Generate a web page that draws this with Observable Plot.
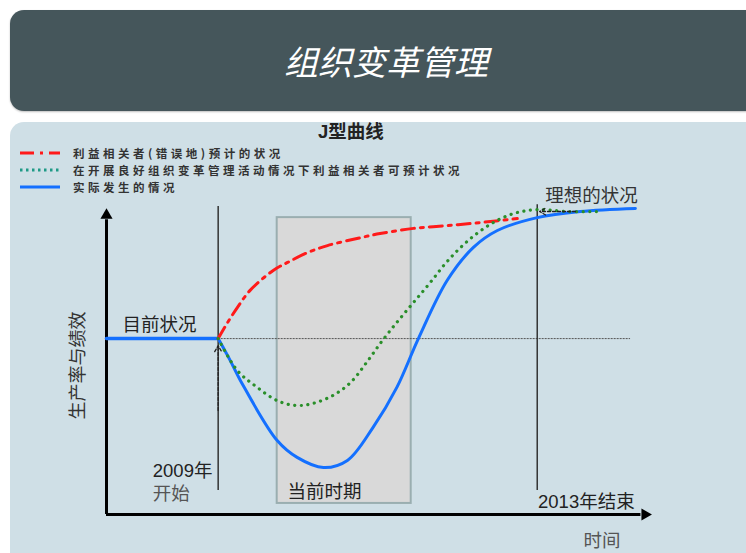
<!DOCTYPE html>
<html>
<head>
<meta charset="utf-8">
<script src="https://cdn.jsdelivr.net/npm/d3@7"></script>
<script src="https://cdn.jsdelivr.net/npm/@observablehq/plot@0.6"></script>
<style>
  html, body { margin: 0; padding: 0; background: #ffffff; }
  body { width: 746px; height: 553px; position: relative; overflow: hidden;
         font-family: "Liberation Sans", "Noto Sans CJK SC", sans-serif; }
  #header { position: absolute; left: 10px; top: 10px; width: 760px; height: 101px;
            background: #45565b; border-radius: 14px; box-shadow: 0 1px 2px rgba(0,0,0,0.25); }
  #title { position: absolute; left: 13px; top: 10px; width: 746px; height: 101px; line-height: 101px;
           text-align: center; color: #ffffff; font-size: 34px; font-style: italic;
           font-family: "Noto Sans CJK SC", sans-serif; }
  #panel { position: absolute; left: 10px; top: 122px; width: 760px; height: 450px;
           background: #cfdfe6; border-radius: 14px; }
  #subtitle { position: absolute; left: 318px; top: 120px; font-size: 18.5px; font-weight: bold;
              color: #222; line-height: 24px; font-family: "Liberation Sans", "Noto Sans CJK SC", sans-serif; }
  .leg { position: absolute; left: 20px; height: 17px; line-height: 17px; display: flex; align-items: center; }
  .leg svg { width: 40px; height: 8px; margin-right: 13px; }
  .leg span { font-size: 11.5px; line-height: 16px; font-weight: bold; color: #333; letter-spacing: 3.5px;
              font-family: "Noto Sans CJK SC", sans-serif; white-space: nowrap; }
  #chart { position: absolute; left: 0; top: 0; }
</style>
</head>
<body>
<div id="header"></div>
<div id="title"></div>
<div id="panel"></div>
<div id="subtitle"></div>
<div id="legend"></div>
<div id="chart"></div>
<script>
// ---------- text ----------
const titleText = "组织变革管理";
const subtitleText = "J型曲线";
const seriesNames = ["利益相关者(错误地)预计的状况", "在开展良好组织变革管理活动情况下利益相关者可预计状况", "实际发生的情况"];
const seriesColors = ["#ff1a1a", "#1f9a86", "#1470ff"];

// ---------- data (x: year, y: productivity/performance index) ----------
const actualYear = [2007.6, 2009.0, 2009.15, 2009.28, 2009.74, 2009.99, 2010.32, 2010.62, 2010.94, 2011.24, 2011.51, 2011.87, 2012.20, 2012.50, 2013.0, 2013.54, 2014.23];
const actualPerf = [57.3, 57.3, 50.2, 43.6, 24.1, 18.6, 15.3, 17.6, 28.3, 41.4, 57.3, 76.2, 87.0, 92.5, 96.7, 98.7, 99.7];

const expectedYear = [2009.0, 2009.24, 2009.49, 2009.74, 2009.97, 2010.19, 2010.44, 2010.66, 2010.86, 2011.06, 2011.26, 2011.46, 2011.66, 2011.87, 2012.12, 2012.41, 2012.70, 2013.0, 2013.38, 2013.79];
const expectedPerf = [57.3, 46.9, 41.4, 37.1, 35.5, 36.2, 38.8, 43.0, 49.5, 56.7, 63.2, 69.4, 75.6, 82.4, 88.9, 94.5, 98.0, 99.3, 98.7, 98.7];

const wrongYear = [2009.0, 2009.11, 2009.24, 2009.40, 2009.69, 2009.87, 2010.12, 2010.37, 2010.74, 2011.03, 2011.45, 2011.87, 2012.29, 2012.75];
const wrongPerf = [57.3, 62.2, 67.4, 73.0, 79.5, 82.1, 85.3, 87.6, 89.9, 91.5, 93.2, 94.1, 95.1, 96.4];

const baselinePerf = 57.3;
const startYear = 2009;
const endYear = 2013;
const periodStart = 2009.74, periodEnd = 2011.42;
const axisYearMin = 2007.6, axisYearMax = 2014.42;

const labelText = ["目前状况", "2009年", "开始", "当前时期", "2013年结束", "时间", "理想的状况"];
const labelYear = [2007.8, 2008.18, 2008.18, 2009.87, 2013.01, 2013.58, 2013.1];
const labelPerf = [61.6, 14.3, 6.5, 7.2, 3.9, -8.5, 103.6];
const labelColor = ["#222", "#222", "#555", "#222", "#222", "#555", "#333"];
const yAxisLabel = "生产率与绩效";

// ---------- header & legend ----------
document.getElementById("title").textContent = titleText;
document.getElementById("subtitle").textContent = subtitleText;
const dashes = ["14,6,3,6", "2.5,3.5", null];
const legend = document.getElementById("legend");
seriesNames.forEach((name, i) => {
  const row = document.createElement("div");
  row.className = "leg";
  row.style.top = (144 + i * 17) + "px";
  const dash = dashes[i] ? `stroke-dasharray="${dashes[i]}"` : "";
  row.innerHTML = `<svg viewBox="0 0 40 8"><line x1="0" y1="4" x2="40" y2="4" stroke="${seriesColors[i]}" stroke-width="3" ${dash}/></svg>`;
  const sp = document.createElement("span");
  sp.textContent = name;
  row.appendChild(sp);
  legend.appendChild(row);
});

// ---------- chart ----------
const actual = actualYear.map((x, i) => ({x, y: actualPerf[i]}));
const expected = expectedYear.map((x, i) => ({x, y: expectedPerf[i]}));
const wrong = wrongYear.map((x, i) => ({x, y: wrongPerf[i]}));
const labels = labelText.map((t, i) => ({t, x: labelYear[i], y: labelPerf[i], c: labelColor[i]}));

const font = "'Liberation Sans', 'Noto Sans CJK SC', sans-serif";

const chart = Plot.plot({
  width: 746,
  height: 553,
  margin: 0,
  x: {domain: [axisYearMin, axisYearMax], range: [106, 650], axis: null},
  y: {domain: [0, 100], range: [514, 207], axis: null},
  style: {background: "transparent", overflow: "visible", fontFamily: font},
  marks: [
    // current period box
    Plot.rect([{x1: periodStart, x2: periodEnd, y1: 3.6, y2: 96.7}], {x1: "x1", x2: "x2", y1: "y1", y2: "y2", fill: "#d9d9d9", stroke: "#9aaeb0", strokeWidth: 2}),
    // baseline
    Plot.ruleY([baselinePerf], {x1: startYear, x2: 2014.17, stroke: "#555", strokeWidth: 1, strokeDasharray: "2,1"}),
    // start / end verticals
    Plot.ruleX([startYear], {y1: 7.8, y2: 100.3, stroke: "#333", strokeWidth: 1.5}),
    Plot.ruleX([endYear], {y1: 7.8, y2: 100.9, stroke: "#333", strokeWidth: 1.5}),
    // axes
    Plot.ruleX([axisYearMin], {y1: 0, y2: 96, stroke: "#000", strokeWidth: 3}),
    Plot.ruleY([0], {x1: axisYearMin, x2: 2014.3, stroke: "#000", strokeWidth: 3}),
    Plot.dot([{x: axisYearMin, y: 97.5}], {x: "x", y: "y", symbol: "triangle", r: 4.5, fill: "#000", stroke: null}),
    Plot.dot([{x: 2014.35, y: 0}], {x: "x", y: "y", symbol: "triangle", r: 4.5, fill: "#000", stroke: null, rotate: 90}),
    // curves
    Plot.line(actual.filter(d => d.x <= startYear), {x: "x", y: "y", stroke: seriesColors[2], strokeWidth: 3.5}),
    Plot.line(actual.filter(d => d.x >= startYear), {x: "x", y: "y", stroke: seriesColors[2], strokeWidth: 3, curve: "catmull-rom"}),
    Plot.line(wrong, {x: "x", y: "y", stroke: seriesColors[0], strokeWidth: 3, strokeDasharray: "13,6,3,6", curve: "catmull-rom"}),
    Plot.line(expected, {x: "x", y: "y", stroke: "#2a8f2a", strokeWidth: 3.2, strokeDasharray: "0.1,6.5", strokeLinecap: "round", curve: "catmull-rom"}),
    // annotation arrows
    Plot.arrow([{x1: startYear, y1: 33.9, x2: startYear, y2: 55.0}], {x1: "x1", y1: "y1", x2: "x2", y2: "y2", stroke: "#222", strokeWidth: 1.3, strokeDasharray: "3,2", headLength: 8}),
    Plot.arrow([{x1: 2013.48, y1: 98.7, x2: 2013.03, y2: 98.7}], {x1: "x1", y1: "y1", x2: "x2", y2: "y2", stroke: "#222", strokeWidth: 1.3, strokeDasharray: "3,2", headLength: 8}),
    // labels
    Plot.text(labels, {x: "x", y: "y", text: "t", fill: "c", textAnchor: "start", fontSize: 18.5, fontFamily: font}),
    Plot.text([{t: yAxisLabel, x: 2007.25, y: 48.5}], {x: "x", y: "y", text: "t", rotate: -90, fontSize: 18, fill: "#333", fontFamily: font})
  ]
});
document.getElementById("chart").appendChild(chart);
</script>
</body>
</html>
